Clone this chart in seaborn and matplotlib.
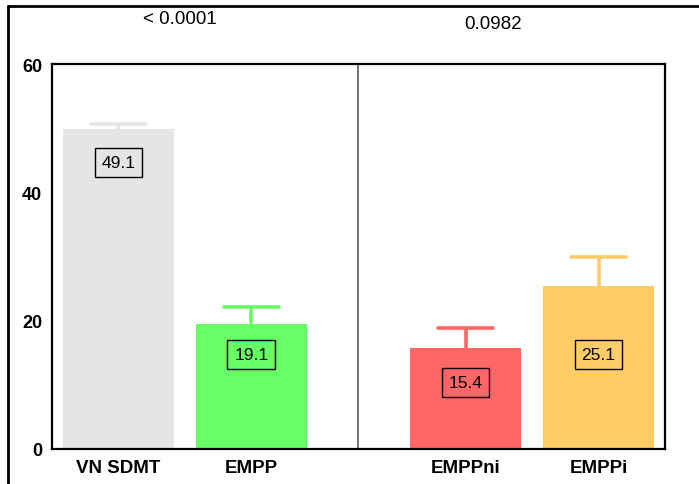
import matplotlib
matplotlib.use("Agg")
import matplotlib.pyplot as plt
from matplotlib.lines import Line2D
import seaborn as sns
import pandas as pd

categories = ["VN SDMT", "EMPP", "EMPPni", "EMPPi"]
positions = [0.0, 1.0, 2.61, 3.61]
means = [49.8, 19.5, 15.7, 25.35]
errors = [0.9, 2.65, 3.2, 4.5]
labels = ["49.1", "19.1", "15.4", "25.1"]
label_y = [44.6, 14.7, 10.4, 14.7]
colors = ["#e5e5e5", "#66ff66", "#ff6666", "#ffcc66"]
pvalues = ["< 0.0001", "0.0982"]
pvalue_x = [0.46, 2.82]
pvalue_y = [1.117, 1.104]
yticks = [0, 20, 40, 60]

sns.set_theme(style="white")
plt.rcParams["font.family"] = ["Liberation Sans", "DejaVu Sans"]
plt.rcParams["text.color"] = "black"
plt.rcParams["xtick.color"] = "black"
plt.rcParams["ytick.color"] = "black"

df = pd.DataFrame({"pos": positions, "mean": means, "cat": categories})

fig = plt.figure(figsize=(6.99, 4.85), dpi=100)
ax = fig.add_axes([52 / 699, 35 / 485, 613 / 699, 385 / 485])

sns.barplot(data=df, x="pos", y="mean", hue="cat", palette=colors,
            native_scale=True, width=0.83, dodge=False, legend=False,
            errorbar=None, ax=ax, saturation=1, linewidth=0)

cap_half = 0.21
for p, m, e, c in zip(positions, means, errors, colors):
    ax.vlines(p, m, m + e, color=c, lw=2.6, zorder=3)
    ax.hlines(m + e, p - cap_half, p + cap_half, color=c, lw=2.6, zorder=3,
              capstyle="round")

for p, ly, lab in zip(positions, label_y, labels):
    ax.text(p, ly, lab, ha="center", va="center", fontsize=12.5, color="black",
            bbox=dict(boxstyle="square,pad=0.4", fc="none", ec="black", lw=1))

ax.axvline(1.805, color="#666666", lw=1.3, zorder=1)

ax.set_xlim(-0.5, 4.11)
ax.set_ylim(0, 60)
ax.set_yticks(yticks)
ax.set_yticklabels([str(t) for t in yticks], fontsize=13, fontweight="bold")
ax.set_xticks(positions)
ax.set_xticklabels(categories, fontsize=13.5, fontweight="bold")
ax.set_xlabel("")
ax.set_ylabel("")
for s in ax.spines.values():
    s.set_visible(True)
    s.set_color("black")
    s.set_linewidth(1.6)
ax.tick_params(axis="both", direction="out", length=5, width=1.6, color="black",
               labelcolor="black", pad=2)

for x, y, t in zip(pvalue_x, pvalue_y, pvalues):
    ax.text(x, y, t, transform=ax.get_xaxis_transform(),
            ha="center", va="center", fontsize=13.5, color="black")

fig.add_artist(Line2D([8 / 699, 1.0], [1 - 6.5 / 485, 1 - 6.5 / 485], color="black", lw=2,
                      transform=fig.transFigure))
fig.add_artist(Line2D([8 / 699, 8 / 699], [0, 1 - 6.5 / 485], color="black", lw=2,
                      transform=fig.transFigure))

fig.savefig("out.png", dpi=100)
